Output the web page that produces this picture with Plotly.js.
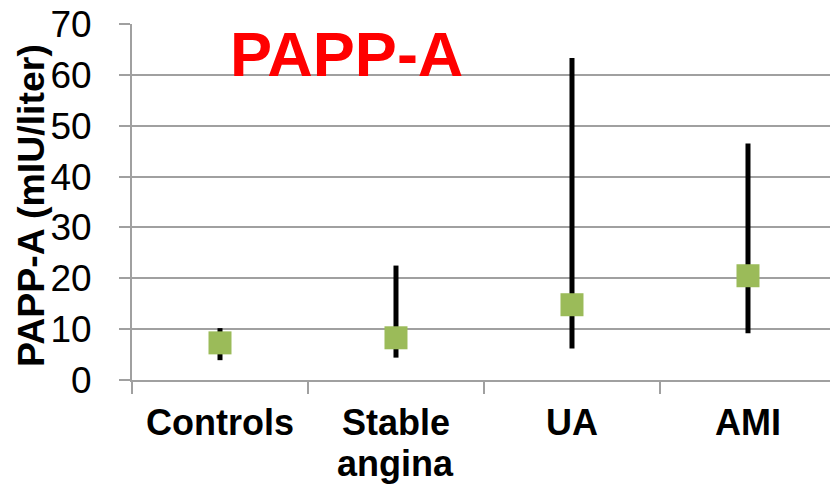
<!DOCTYPE html>
<html>
<head>
<meta charset="utf-8">
<script src="https://cdn.plot.ly/plotly-3.0.1.min.js"></script>
<style>html,body{margin:0;padding:0;background:#fff;}#chart{width:830px;height:486px;}</style>
</head>
<body>
<div id="chart"></div>
<script>
var categories = ["Controls", "Stable angina", "UA", "AMI"];
var labelLines = [["Controls"], ["Stable", "angina"], ["UA"], ["AMI"]];
var medianValues = [7.3, 8.3, 14.8, 20.5];
var lowValues = [3.9, 4.4, 6.2, 9.2];
var highValues = [10.2, 22.5, 63.3, 46.5];
var yTickValues = [0, 10, 20, 30, 40, 50, 60, 70];
var chartTitle = "PAPP-A";
var yTitle = "PAPP-A (mIU/liter)";

var FONT = "Arial, 'Liberation Sans', sans-serif";
var GRID = "#a0a0a0";

var trace = {
  type: "scatter",
  mode: "markers",
  x: categories,
  y: medianValues,
  marker: {symbol: "square", size: 23, color: "#9BBB59", line: {width: 0}},
  error_y: {
    type: "data",
    symmetric: false,
    array: highValues.map(function (h, i) { return h - medianValues[i]; }),
    arrayminus: lowValues.map(function (l, i) { return medianValues[i] - l; }),
    color: "#000000",
    thickness: 5,
    width: 0
  },
  hoverinfo: "skip",
  showlegend: false
};

var annotations = [];
annotations.push({
  text: chartTitle, xref: "paper", yref: "paper", x: 0.308, y: 0.916,
  xanchor: "center", yanchor: "middle", showarrow: false,
  font: {family: FONT, size: 63, color: "#FF0000", weight: "bold"}
});
annotations.push({
  text: "<b>" + yTitle + "</b>", xref: "paper", yref: "paper", x: -0.1447, y: 0.4916,
  xanchor: "center", yanchor: "middle", showarrow: false, textangle: -90,
  font: {family: FONT, size: 37.5, color: "#000000"}
});
labelLines.forEach(function (lines, i) {
  lines.forEach(function (line, j) {
    annotations.push({
      text: "<b>" + line + "</b>", xref: "x", yref: "paper", x: categories[i], y: 0,
      xanchor: "center", yanchor: "top", yshift: -20 - j * 41, showarrow: false,
      font: {family: FONT, size: 36, color: "#000000"}
    });
  });
});

var layout = {
  width: 830, height: 486,
  margin: {l: 132, r: 0, t: 24, b: 106, pad: 0},
  paper_bgcolor: "#ffffff", plot_bgcolor: "#ffffff",
  showlegend: false,
  xaxis: {
    type: "category", range: [-0.5, 3.466],
    showgrid: false, zeroline: false,
    showline: true, linecolor: GRID, linewidth: 2,
    ticks: "outside", tickson: "boundaries", ticklen: 12, tickcolor: GRID, tickwidth: 2,
    showticklabels: false, fixedrange: true
  },
  yaxis: {
    range: [0, 70], tickvals: yTickValues, ticktext: yTickValues.map(String),
    showgrid: true, gridcolor: GRID, gridwidth: 2, zeroline: false,
    showline: true, linecolor: GRID, linewidth: 2,
    ticks: "outside", ticklen: 11, tickcolor: GRID, tickwidth: 2,
    ticklabelstandoff: 20,
    tickfont: {family: FONT, size: 37, color: "#000000"}, fixedrange: true
  },
  annotations: annotations
};

Plotly.newPlot("chart", [trace], layout, {displayModeBar: false, staticPlot: true});
</script>
</body>
</html>
